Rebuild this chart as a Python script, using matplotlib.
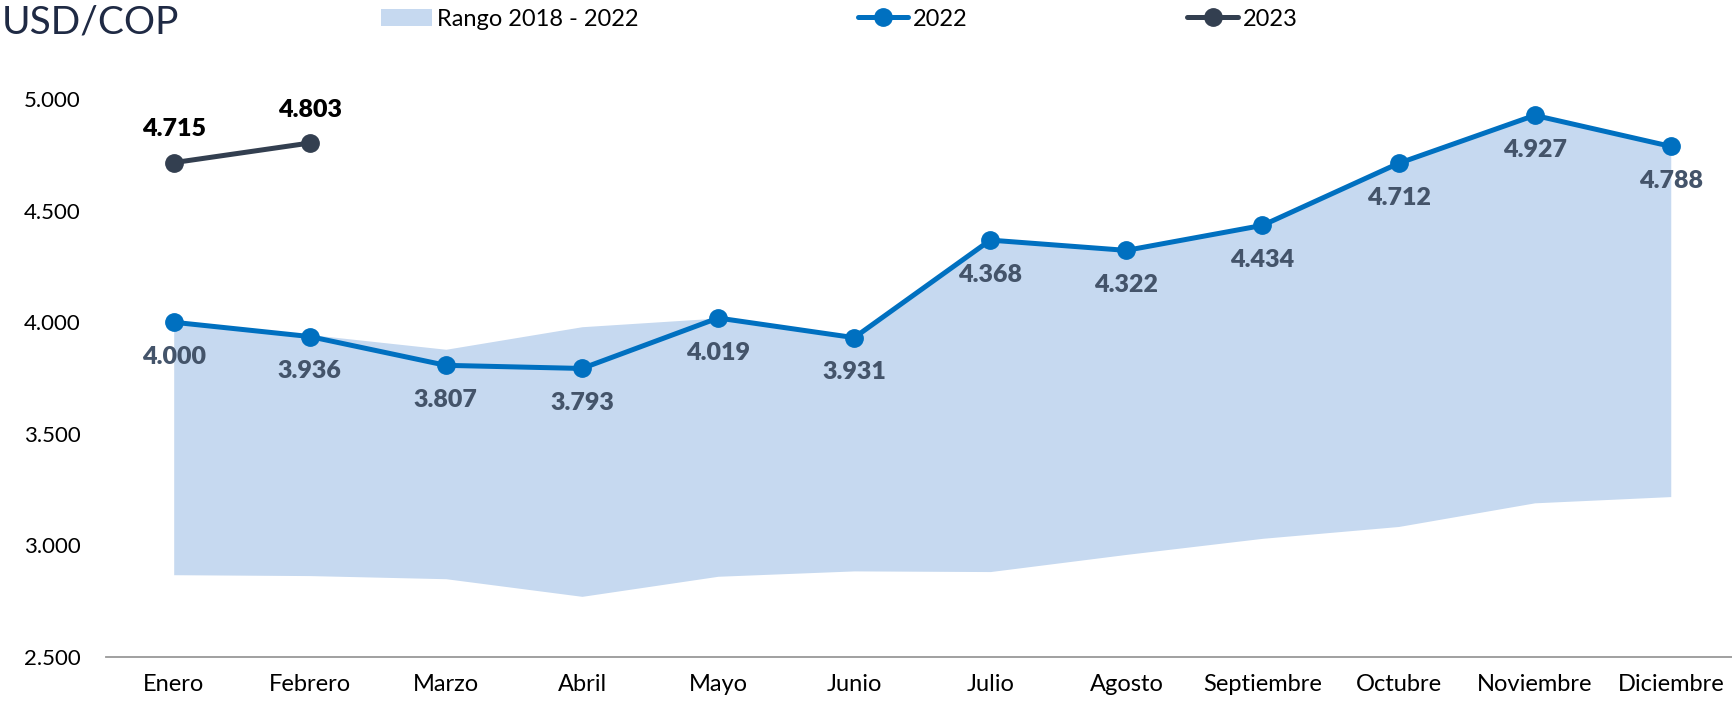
import matplotlib.pyplot as plt
import numpy as np

plt.rcParams['font.family'] = ['Lato', 'DejaVu Sans']

meses = ["Enero", "Febrero", "Marzo", "Abril", "Mayo", "Junio", "Julio",
         "Agosto", "Septiembre", "Octubre", "Noviembre", "Diciembre"]
rango_min = [2869, 2865, 2851, 2772, 2862, 2886, 2883, 2960, 3032, 3085, 3191, 3219]
rango_max = [4000, 3945, 3879, 3980, 4019, 3931, 4368, 4322, 4434, 4712, 4927, 4788]
v2022 = [4000, 3936, 3807, 3793, 4019, 3931, 4368, 4322, 4434, 4712, 4927, 4788]
v2023 = [4715, 4803]

def fmt(v):
    return f"{v:,.0f}".replace(",", ".")

fig = plt.figure(figsize=(17.32, 7.05), dpi=100)
ax = fig.add_axes([0.061, 0.068, 0.939, 0.7915])

x = np.arange(len(meses))
ax.fill_between(x, rango_min, rango_max, color="#C6D9F0", lw=0,
                label="Rango 2018 - 2022")
ax.plot(x, v2022, color="#0070C0", lw=3.6, marker="o", ms=12.5,
        solid_capstyle="round", label="2022")
x23 = np.arange(len(v2023))
ax.plot(x23, v2023, color="#333F50", lw=3.6, marker="o", ms=12.5,
        solid_capstyle="round", label="2023")

for xi, v in zip(x, v2022):
    ax.annotate(fmt(v), (xi, v), xytext=(0, -25), textcoords="offset points",
                ha="center", va="center", fontsize=18, fontweight="heavy",
                color="#44546A", annotation_clip=False)
for xi, v in zip(x23, v2023):
    ax.annotate(fmt(v), (xi, v), xytext=(0, 24), textcoords="offset points",
                ha="center", va="center", fontsize=18, fontweight="heavy",
                color="black", annotation_clip=False)

ax.set_xlim(-0.5, 11.45)
ax.set_ylim(2500, 5000)
ax.set_yticks([2500, 3000, 3500, 4000, 4500, 5000])
ax.set_yticklabels([fmt(v) for v in [2500, 3000, 3500, 4000, 4500, 5000]])
ax.set_xticks(x)
ax.set_xticklabels(meses)
ax.tick_params(axis="y", length=0, labelsize=16, pad=18)
ax.tick_params(axis="x", length=0, labelsize=17, pad=12)
for s in ["top", "right", "left"]:
    ax.spines[s].set_visible(False)
ax.spines["bottom"].set_color("#999999")
ax.spines["bottom"].set_linewidth(1.3)

fig.text(0.001, 0.968, "USD/COP", fontsize=28, color="#1F2A44",
         ha="left", va="center")

fig.legend(loc="center left", bbox_to_anchor=(0.220, 0.973), ncol=3,
           frameon=False, fontsize=17, handlelength=2.15, handletextpad=0.2,
           columnspacing=9.3, borderaxespad=0, borderpad=0)

fig.savefig("out.png", dpi=100)
